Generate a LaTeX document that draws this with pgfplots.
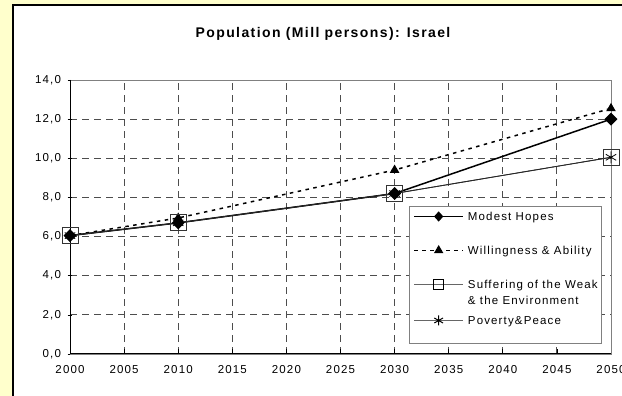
\documentclass[border=0pt]{standalone}
\usepackage{fontspec}
\setmainfont{Liberation Sans}[LetterSpace=10]
\usepackage{pgfplots}
\pgfplotsset{compat=1.18}

\definecolor{chartbg}{HTML}{FFFFCC}
\definecolor{gridgray}{HTML}{4D4D4D}
\definecolor{framegray}{HTML}{808080}

% series: year, population in millions
\pgfplotstableread{
year val
2000 6.05
2010 6.70
2030 8.20
2050 12.00
}\modest
\pgfplotstableread{
year val
2000 6.05
2010 6.95
2030 9.40
2050 12.55
}\willing
\pgfplotstableread{
year val
2000 6.05
2010 6.70
2030 8.20
2050 10.05
}\suffering
\pgfplotstableread{
year val
2000 6.05
2010 6.70
2030 8.20
2050 10.05
}\poverty

\begin{document}
\begin{tikzpicture}
\useasboundingbox (0pt,0pt) rectangle (622pt,396pt);
\fill[chartbg] (0pt,0pt) rectangle (622pt,396pt);
\filldraw[fill=white,draw=black,line width=2.5pt] (13pt,-20pt) rectangle (650pt,391pt);
\node[font=\fontsize{14}{16}\selectfont\bfseries] at (323pt,362pt) {Population (Mill persons): Israel};

\begin{axis}[
  at={(70pt,42pt)}, anchor=south west,
  scale only axis, width=541pt, height=274pt,
  xmin=2000, xmax=2050, ymin=0, ymax=14,
  xtick={2000,2005,...,2050}, ytick={0,2,...,14},
  grid=major,
  major grid style={gridgray, line width=0.8pt, dash pattern=on 7pt off 5pt},
  axis line style={framegray, line width=0.7pt},
  tick style={black, line width=0.7pt},
  major tick length=5pt,
  xtick pos=bottom, ytick pos=left,
  ytick align=center, xtick align=inside,
  tick label style={font=\fontsize{11.5}{13}\selectfont},
  /pgf/number format/assume math mode=true,
  xticklabel style={/pgf/number format/1000 sep={}, yshift=-8pt},
  yticklabel style={xshift=-3pt, /pgf/number format/.cd, use comma, fixed, fixed zerofill, precision=1},
  legend style={
    at={(0.6266,0.540)}, anchor=north west,
    draw=framegray, line width=0.9pt,
    inner xsep=4pt, inner ysep=2pt,
    row sep=0pt, column sep=4pt,
    nodes={inner sep=0pt, font=\fontsize{11.5}{13}\selectfont},
  },
  legend cell align=left,
  legend image code/.code={
    \draw[mark repeat=2, mark phase=2] plot coordinates {(0pt,0pt) (24.5pt,0pt) (49pt,0pt)};
  },
]
\addplot[forget plot, black, line width=1.5pt, mark=diamond*, mark size=5.5pt, mark options={solid, xscale=1.3}] table[x=year, y=val] {\modest};
\addplot[forget plot, black, line width=1.5pt, dash pattern=on 3.5pt off 4.5pt, mark=triangle*, mark size=4pt, mark options={solid}] table[x=year, y=val] {\willing};
\addplot[forget plot, black!85, line width=0.8pt, mark=square, mark size=8pt, mark options={solid, black!80}] table[x=year, y=val] {\suffering};
\addplot[forget plot, black!85, line width=0.8pt, mark=asterisk, mark size=6pt, mark options={solid, black}] table[x=year, y=val] {\poverty};

% legend samples with the smaller marks of the key
\addlegendimage{black, line width=1.5pt, mark=diamond*, mark size=4pt, mark options={solid, xscale=1.2}}
\addlegendentry[text height=12pt, text depth=4pt]{Modest Hopes}
\addlegendimage{black, line width=1.5pt, dash pattern=on 3.5pt off 4.5pt, mark=triangle*, mark size=4pt, mark options={solid}}
\addlegendentry[text height=30pt, text depth=22pt]{Willingness \& Ability}
\addlegendimage{black!60, line width=0.8pt, mark=square, mark size=5pt, mark options={solid, black}}
\addlegendentry[text height=12pt, text depth=4pt]{Suffering of the Weak}
\addlegendimage{empty legend}
\addlegendentry[text height=12pt, text depth=4pt]{\& the Environment}
\addlegendimage{black!60, line width=0.8pt, mark=asterisk, mark size=5pt, mark options={solid, black, line width=1pt}}
\addlegendentry[text height=16pt, text depth=8pt]{Poverty\&Peace}
\addlegendimage{empty legend}
\addlegendentry[text height=9pt, text depth=0pt]{}
% solid black axis lines on the left and at the bottom
\draw[black, line width=1pt] (rel axis cs:0,1) -- (rel axis cs:0,0) -- (rel axis cs:1,0);
\end{axis}
\end{tikzpicture}
\end{document}
